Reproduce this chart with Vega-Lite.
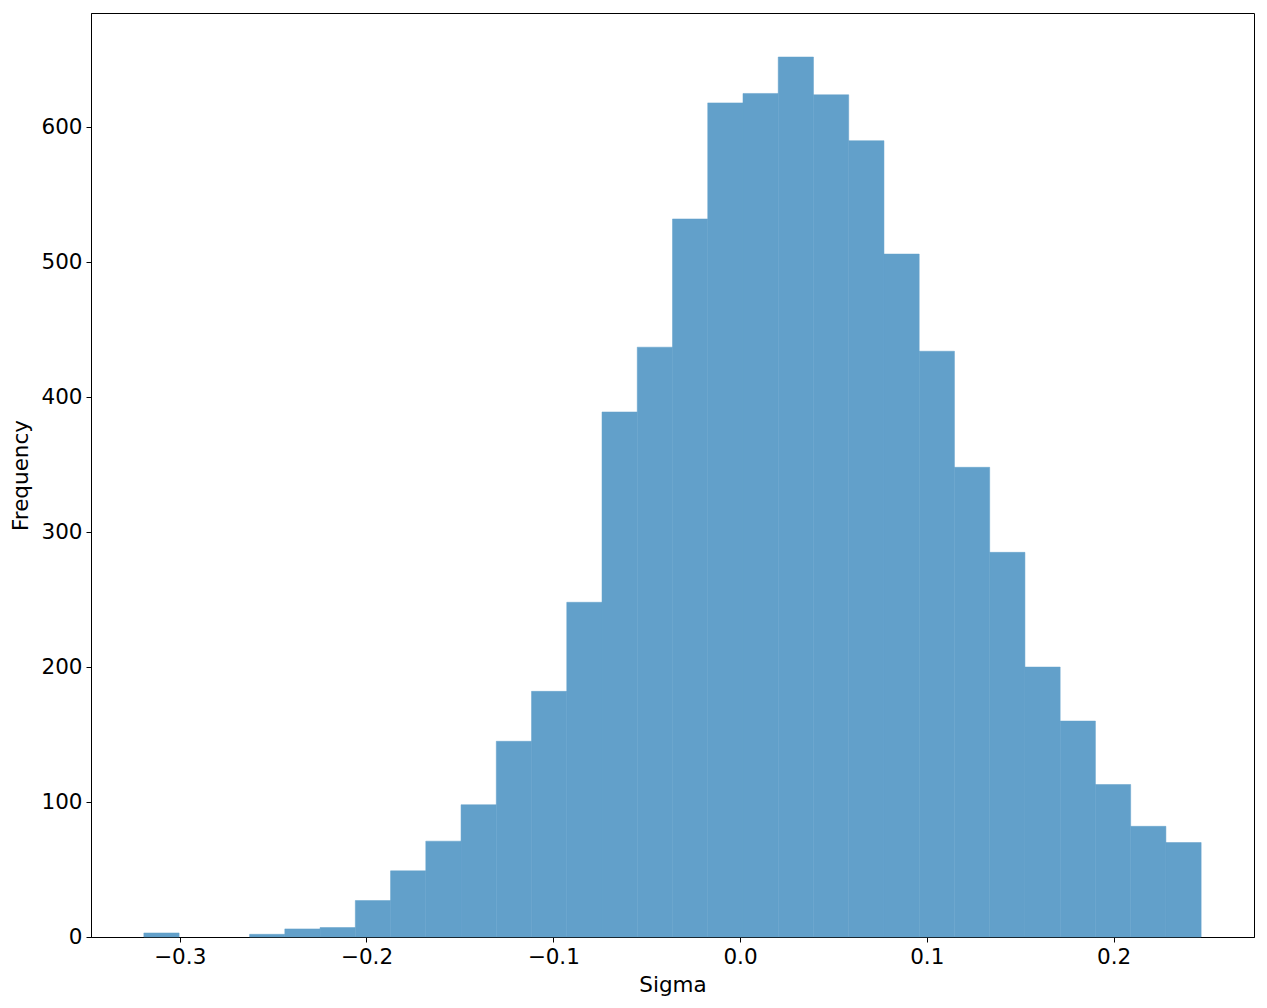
{
  "$schema": "https://vega.github.io/schema/vega-lite/v6.json",
  "width": 1163,
  "height": 924,
  "autosize": {"type": "none"},
  "padding": {"left": 91, "top": 13, "right": 13, "bottom": 71},
  "background": "white",
  "config": {
    "view": {"stroke": "black", "strokeWidth": 1},
    "font": "DejaVu Sans",
    "axis": {
      "grid": false,
      "domainColor": "black",
      "tickColor": "black",
      "tickSize": 5,
      "labelColor": "black",
      "labelFontSize": 21.5,
      "labelFont": "DejaVu Sans",
      "labelPadding": 4,
      "titleFontSize": 21.5,
      "titleFont": "DejaVu Sans",
      "titleFontWeight": "normal",
      "titleColor": "black"
    }
  },
  "data": {
    "values": [
      {"lo": -0.3192, "hi": -0.30033, "count": 3},
      {"lo": -0.26259, "hi": -0.24372, "count": 2},
      {"lo": -0.24372, "hi": -0.22485, "count": 6},
      {"lo": -0.22485, "hi": -0.20598, "count": 7},
      {"lo": -0.20598, "hi": -0.18711, "count": 27},
      {"lo": -0.18711, "hi": -0.16824, "count": 49},
      {"lo": -0.16824, "hi": -0.14937, "count": 71},
      {"lo": -0.14937, "hi": -0.1305, "count": 98},
      {"lo": -0.1305, "hi": -0.11163, "count": 145},
      {"lo": -0.11163, "hi": -0.09276, "count": 182},
      {"lo": -0.09276, "hi": -0.07389, "count": 248},
      {"lo": -0.07389, "hi": -0.05502, "count": 389},
      {"lo": -0.05502, "hi": -0.03615, "count": 437},
      {"lo": -0.03615, "hi": -0.01728, "count": 532},
      {"lo": -0.01728, "hi": 0.00159, "count": 618},
      {"lo": 0.00159, "hi": 0.02046, "count": 625},
      {"lo": 0.02046, "hi": 0.03933, "count": 652},
      {"lo": 0.03933, "hi": 0.0582, "count": 624},
      {"lo": 0.0582, "hi": 0.07707, "count": 590},
      {"lo": 0.07707, "hi": 0.09594, "count": 506},
      {"lo": 0.09594, "hi": 0.11481, "count": 434},
      {"lo": 0.11481, "hi": 0.13368, "count": 348},
      {"lo": 0.13368, "hi": 0.15255, "count": 285},
      {"lo": 0.15255, "hi": 0.17142, "count": 200},
      {"lo": 0.17142, "hi": 0.19029, "count": 160},
      {"lo": 0.19029, "hi": 0.20916, "count": 113},
      {"lo": 0.20916, "hi": 0.22803, "count": 82},
      {"lo": 0.22803, "hi": 0.2469, "count": 70}
    ]
  },
  "mark": {"type": "rect", "fill": "#62a0ca", "stroke": "#62a0ca", "strokeWidth": 0.5, "opacity": 1},
  "encoding": {
    "x": {
      "field": "lo",
      "type": "quantitative",
      "title": "Sigma",
      "scale": {"domain": [-0.3475, 0.2752], "nice": false, "zero": false},
      "axis": {"values": [-0.3, -0.2, -0.1, 0.0, 0.1, 0.2], "format": ".1f", "titlePadding": 7}
    },
    "x2": {"field": "hi"},
    "y": {
      "field": "count",
      "type": "quantitative",
      "title": "Frequency",
      "scale": {"domain": [0, 684.6], "nice": false},
      "axis": {"values": [0, 100, 200, 300, 400, 500, 600], "titlePadding": 8}
    },
    "y2": {"datum": 0}
  }
}
